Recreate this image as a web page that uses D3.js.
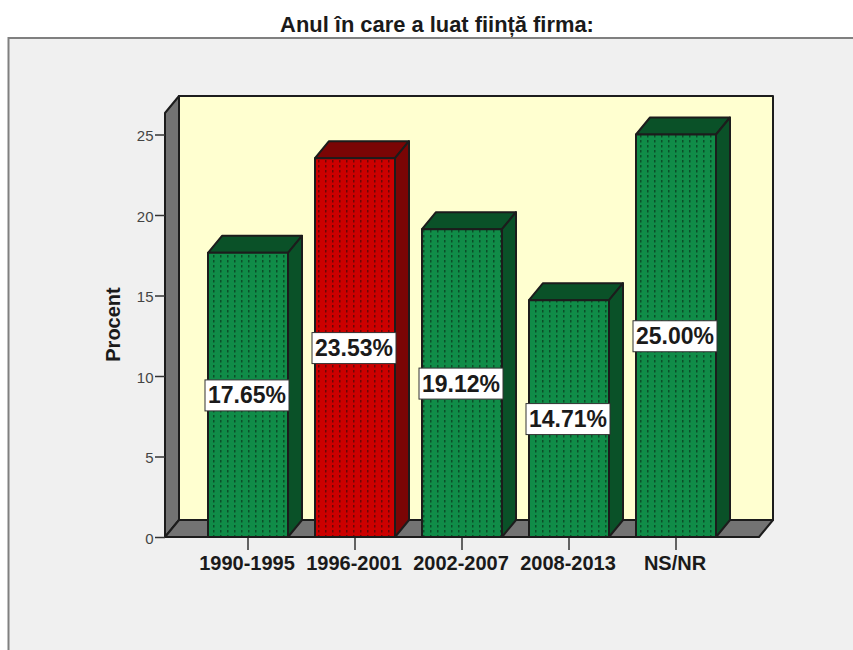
<!DOCTYPE html>
<html><head><meta charset="utf-8">
<script src="https://cdn.jsdelivr.net/npm/d3@7"></script>
<style>html,body{margin:0;padding:0;background:#fff}svg{display:block}text{font-family:"Liberation Sans",Arial,sans-serif;fill:#1a1a1a}</style>
</head><body><div id="c"></div>
<script>
const categories=["1990-1995","1996-2001","2002-2007","2008-2013","NS/NR"];
const values=[17.65,23.53,19.12,14.71,25.00];
const labels=["17.65%","23.53%","19.12%","14.71%","25.00%"];
const highlighted=[false,true,false,false,false];
const yTicks=[0,5,10,15,20,25];
const title="Anul în care a luat ființă firma:";
const yTitle="Procent";

const W=853,H=650,dx=14,dy=17;
const svg=d3.select("#c").append("svg").attr("width",W).attr("height",H);
const y=d3.scaleLinear().domain([0,25]).range([537,134.5]);
const x=d3.scaleBand().domain(categories).range([194.5,729.5]).paddingInner(27/107).paddingOuter(27/214);
const fronts={g:"#108c48",r:"#cc0000"},darks={g:"#0a5128",r:"#7a0505"};
const defs=svg.append("defs");
[["g","#0a4f28"],["r","#6d0606"]].forEach(([k,dot])=>{
  const p=defs.append("pattern").attr("id","dots-"+k).attr("patternUnits","userSpaceOnUse").attr("width",7).attr("height",5).attr("x",210).attr("y",254);
  p.append("rect").attr("width",7).attr("height",5).attr("fill",fronts[k]);
  p.append("rect").attr("x",3).attr("y",1).attr("width",1.5).attr("height",2.5).attr("fill",dot);
});
svg.append("rect").attr("x",8.5).attr("y",38).attr("width",W+10).attr("height",H).attr("fill","#f0f0f0").attr("stroke","#808080").attr("stroke-width",2);
svg.append("text").attr("x",437).attr("y",32).attr("text-anchor","middle").attr("font-size",21.9).attr("font-weight","bold").text(title);

const L=165,R=759,B=y(0),T=113;
const line=d3.line();
const poly=(pts,fill,sw=2)=>svg.append("path").attr("d",line(pts)+"Z").attr("fill",fill).attr("stroke","#1c1c1c").attr("stroke-width",sw).attr("stroke-linejoin","round");
poly([[L+dx,T-dy],[R+dx,T-dy],[R+dx,B-dy],[L+dx,B-dy]],"#ffffd0");
poly([[L,T],[L+dx,T-dy],[L+dx,B-dy],[L,B]],"#737373");
poly([[L,B],[L+dx,B-dy],[R+dx,B-dy],[R,B]],"#737373");

// axes
const yAxis=d3.axisLeft(y).tickValues(yTicks).tickSize(10).tickPadding(1.5).tickFormat(d3.format("d"));
const ga=svg.append("g").attr("transform",`translate(${L},0)`).call(yAxis);
ga.select(".domain").remove();
ga.selectAll("line").attr("stroke","#333").attr("stroke-width",1.5);
ga.selectAll("text").attr("font-size",15).attr("dy","0.4em").style("fill","#444");
const xAxis=d3.axisBottom(x).tickSize(13).tickPadding(6);
const gx=svg.append("g").attr("transform",`translate(0,${B})`).call(xAxis);
gx.select(".domain").remove();
gx.selectAll("line").attr("stroke","#333").attr("stroke-width",1.5);
gx.selectAll("text").attr("font-size",20).attr("font-weight","bold").attr("dy","0.72em").attr("dx",-1);
svg.append("text").attr("transform",`translate(120,324.5) rotate(-90)`).attr("text-anchor","middle").attr("font-size",20).attr("font-weight","bold").text(yTitle);

// bars
categories.forEach((c,i)=>{
  const k=highlighted[i]?"r":"g",x0=x(c),x1=x0+x.bandwidth(),t=y(values[i]);
  poly([[x0,t],[x0+dx,t-dy],[x1+dx,t-dy],[x1,t]],darks[k]);
  poly([[x1,t],[x1+dx,t-dy],[x1+dx,B-dy],[x1,B]],darks[k]);
  poly([[x0,t],[x1,t],[x1,B],[x0,B]],`url(#dots-${k})`);
});
// value labels
categories.forEach((c,i)=>{
  const cx=x(c)+x.bandwidth()/2-1,cy=y(values[i]/2)+0.5;
  svg.append("rect").attr("x",cx-42).attr("y",cy-15.5).attr("width",84).attr("height",31).attr("fill","#fff").attr("stroke","#333").attr("stroke-width",1);
  svg.append("text").attr("x",cx).attr("y",cy+8).attr("text-anchor","middle").attr("font-size",23).attr("font-weight","bold").text(labels[i]);
});
</script></body></html>
